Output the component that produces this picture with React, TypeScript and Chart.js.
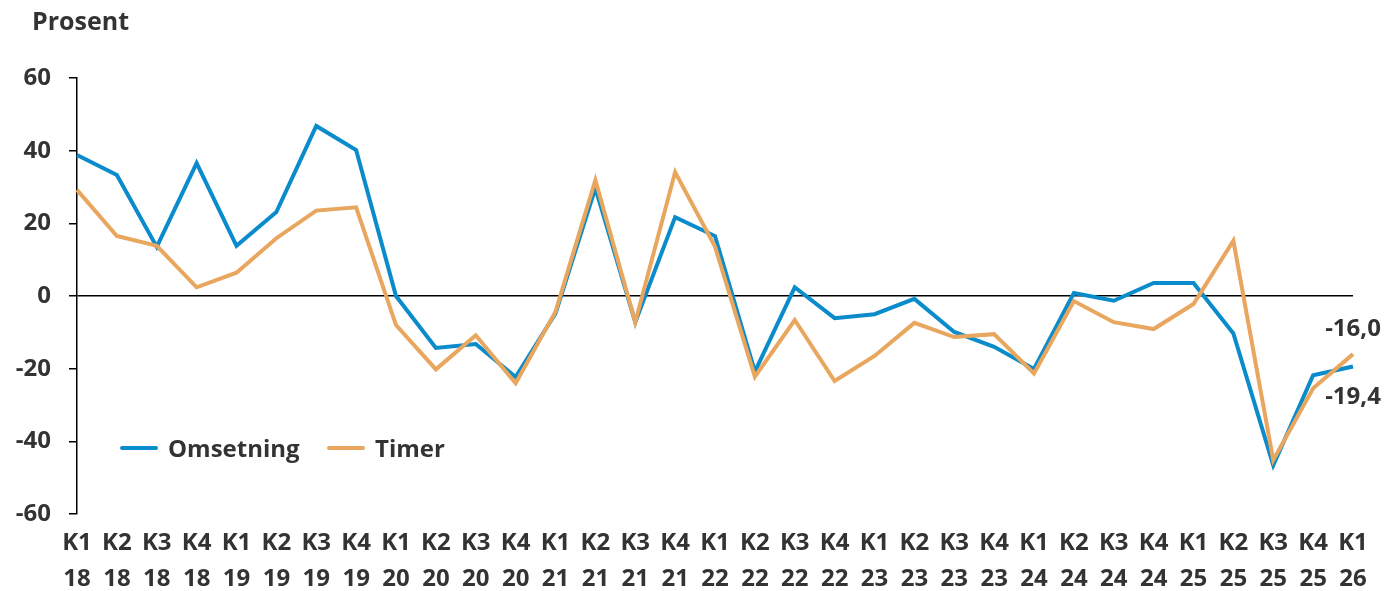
import React, { useEffect, useRef } from 'react';
import { Chart, registerables } from 'chart.js';

Chart.register(...registerables);

const categories: string[][] = [
  ['K1', '18'], ['K2', '18'], ['K3', '18'], ['K4', '18'],
  ['K1', '19'], ['K2', '19'], ['K3', '19'], ['K4', '19'],
  ['K1', '20'], ['K2', '20'], ['K3', '20'], ['K4', '20'],
  ['K1', '21'], ['K2', '21'], ['K3', '21'], ['K4', '21'],
  ['K1', '22'], ['K2', '22'], ['K3', '22'], ['K4', '22'],
  ['K1', '23'], ['K2', '23'], ['K3', '23'], ['K4', '23'],
  ['K1', '24'], ['K2', '24'], ['K3', '24'], ['K4', '24'],
  ['K1', '25'], ['K2', '25'], ['K3', '25'], ['K4', '25'],
  ['K1', '26'],
];

const omsetning: number[] = [
  38.8, 33.3, 13.5, 36.6, 13.8, 23.1, 46.8, 40.2,
  0.0, -14.3, -13.2, -22.3, -4.8, 29.7, -7.2, 21.7,
  16.5, -20.8, 2.4, -6.1, -5.0, -0.8, -9.9, -14.0,
  -20.1, 0.8, -1.3, 3.6, 3.6, -10.3, -46.6, -21.8,
  -19.4,
];

const timer: number[] = [
  29.2, 16.5, 13.8, 2.4, 6.4, 15.9, 23.5, 24.4,
  -8.0, -20.2, -10.8, -24.0, -4.3, 31.9, -7.2, 34.1,
  13.6, -22.2, -6.6, -23.4, -16.5, -7.4, -11.3, -10.5,
  -21.3, -1.4, -7.2, -9.1, -2.2, 15.2, -45.2, -25.4,
  -16.0,
];

const seriesNames = ['Omsetning', 'Timer'];
const yTitle = 'Prosent';
const yMin = -60;
const yMax = 60;
const yStep = 20;

const BLUE = '#0A8BCB';
const ORANGE = '#E8A65E';
const TEXT = '#333333';
const FONT = '"Open Sans", "Noto Sans", sans-serif';
const FS = 24;

const fmt = (v: number) => v.toFixed(1).replace('.', ',');

const overlayPlugin = {
  id: 'overlay',
  afterDraw(chart: any) {
    const ctx = chart.ctx as CanvasRenderingContext2D;
    ctx.save();
    ctx.fillStyle = TEXT;
    ctx.textBaseline = 'middle';
    ctx.textAlign = 'left';
    // axis title
    ctx.font = `bold 25px ${FONT}`;
    ctx.fillText(yTitle, 32, 23);

    ctx.font = `bold ${FS}px ${FONT}`;
    // legend
    const legY = 449;
    const items = [
      { name: seriesNames[0], color: BLUE, x: 122 },
      { name: seriesNames[1], color: ORANGE, x: 329 },
    ];
    items.forEach((it) => {
      ctx.strokeStyle = it.color;
      ctx.lineWidth = 4;
      ctx.lineCap = 'round';
      ctx.beginPath();
      ctx.moveTo(it.x, legY - 1);
      ctx.lineTo(it.x + 34, legY - 1);
      ctx.stroke();
      ctx.fillText(it.name, it.x + 46, legY + 1);
    });

    // end labels
    ctx.textAlign = 'center';
    const n = omsetning.length - 1;
    const pB = chart.getDatasetMeta(0).data[n];
    const pO = chart.getDatasetMeta(1).data[n];
    if (pB && pO) {
      ctx.fillText(fmt(timer[n]), pO.x, pO.y - 25);
      ctx.fillText(fmt(omsetning[n]), pB.x, pB.y + 31);
    }
    ctx.restore();
  },
};

export default function App() {
  const ref = useRef<HTMLCanvasElement | null>(null);

  useEffect(() => {
    if (!ref.current) return;
    const chart = new Chart(ref.current, {
      type: 'line',
      data: {
        labels: categories,
        datasets: [
          {
            label: seriesNames[0],
            data: omsetning,
            borderColor: BLUE,
            backgroundColor: BLUE,
            borderWidth: 4,
            pointRadius: 0,
            tension: 0,
            order: 1,
          },
          {
            label: seriesNames[1],
            data: timer,
            borderColor: ORANGE,
            backgroundColor: ORANGE,
            borderWidth: 4,
            pointRadius: 0,
            tension: 0,
            order: 0,
          },
        ],
      },
      options: {
        animation: false,
        responsive: true,
        maintainAspectRatio: false,
        layout: { padding: { top: 78, right: 33, bottom: 0, left: 0 } },
        plugins: {
          legend: { display: false },
          tooltip: { enabled: false },
          title: { display: false },
        },
        scales: {
          x: {
            offset: false,
            grid: { display: false },
            border: { display: false },
            ticks: {
              autoSkip: false,
              maxRotation: 0,
              minRotation: 0,
              padding: 3,
              color: TEXT,
              font: { family: FONT, size: FS, weight: 'bold', lineHeight: '36px' } as any,
            },
            afterFit: (s: any) => {
              s.height = 77;
            },
          },
          y: {
            min: yMin,
            max: yMax,
            grid: {
              drawOnChartArea: true,
              color: (c: any) => (c.tick && c.tick.value === 0 ? '#000000' : 'rgba(0,0,0,0)'),
              lineWidth: 1.5,
              tickColor: '#000000',
              tickLength: 8,
            },
            border: { display: true, color: '#000000', width: 1.5 },
            ticks: {
              stepSize: yStep,
              padding: 18,
              color: TEXT,
              font: { family: FONT, size: FS, weight: 'bold' },
            },
            afterFit: (s: any) => {
              s.width = 77;
            },
          },
        },
      },
      plugins: [overlayPlugin],
    });
    return () => chart.destroy();
  }, []);

  return (
    <div style={{ position: 'fixed', left: 0, top: 0, width: 1386, height: 591, background: '#ffffff' }}>
      <canvas ref={ref} />
    </div>
  );
}
